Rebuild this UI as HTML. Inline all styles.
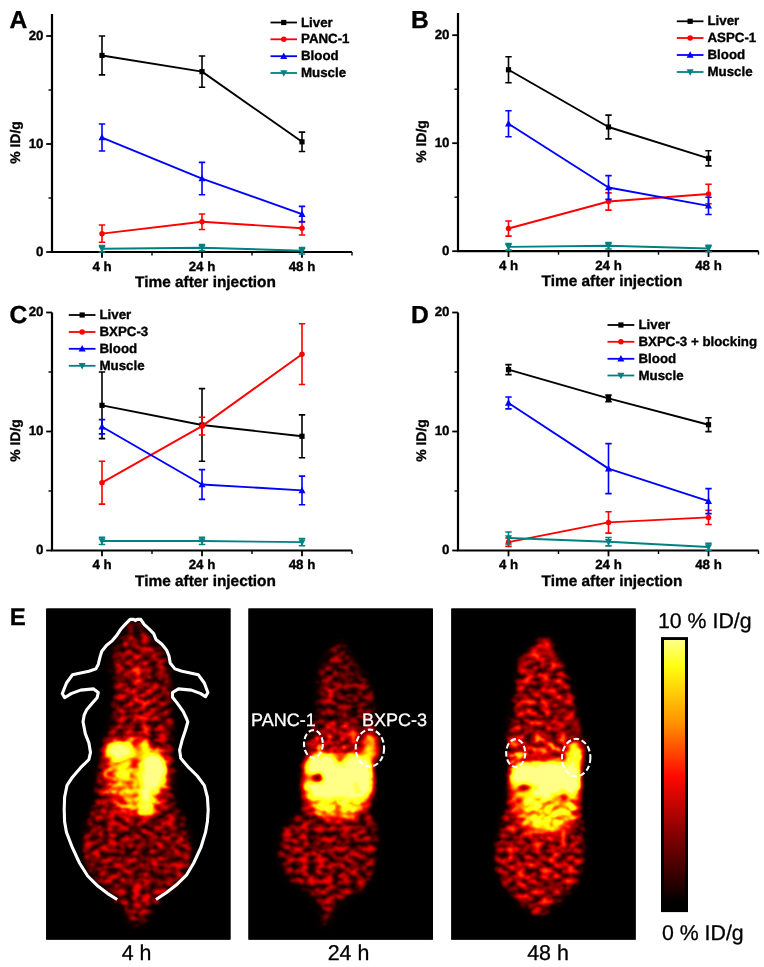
<!DOCTYPE html>
<html><head><meta charset="utf-8"><title>Figure</title>
<style>
html,body{margin:0;padding:0;background:#fff;}
body{width:764px;height:967px;overflow:hidden;}
svg{display:block;will-change:transform;}
svg text{font-family:"Liberation Sans", sans-serif;text-rendering:geometricPrecision;stroke-width:0.35px;}
#panelA text,#panelB text,#panelC text,#panelD text{stroke:#000;}
#panelE text{stroke-width:0.3px;}
</style></head>
<body>
<svg width="764" height="967" viewBox="0 0 764 967" font-family='"Liberation Sans", sans-serif'>
<rect width="764" height="967" fill="#fff"/>
<g id="panelA">
<path d="M52 14 V252 H352" fill="none" stroke="#000" stroke-width="2.2" stroke-linejoin="miter"/>
<line x1="46.2" x2="52" y1="252.00" y2="252.00" stroke="#000" stroke-width="1.8"/>
<text x="43.5" y="255.90" text-anchor="end" font-size="13.3" font-weight="bold">0</text>
<line x1="46.2" x2="52" y1="144.00" y2="144.00" stroke="#000" stroke-width="1.8"/>
<text x="43.5" y="147.90" text-anchor="end" font-size="13.3" font-weight="bold">10</text>
<line x1="46.2" x2="52" y1="36.00" y2="36.00" stroke="#000" stroke-width="1.8"/>
<text x="43.5" y="39.90" text-anchor="end" font-size="13.3" font-weight="bold">20</text>
<line x1="48.5" x2="52" y1="198.00" y2="198.00" stroke="#000" stroke-width="1.4"/>
<line x1="48.5" x2="52" y1="90.00" y2="90.00" stroke="#000" stroke-width="1.4"/>
<line x1="102" x2="102" y1="252" y2="257.8" stroke="#000" stroke-width="1.8"/>
<text x="102" y="270.60" text-anchor="middle" font-size="13.3" font-weight="bold">4 h</text>
<line x1="202" x2="202" y1="252" y2="257.8" stroke="#000" stroke-width="1.8"/>
<text x="202" y="270.60" text-anchor="middle" font-size="13.3" font-weight="bold">24 h</text>
<line x1="302" x2="302" y1="252" y2="257.8" stroke="#000" stroke-width="1.8"/>
<text x="302" y="270.60" text-anchor="middle" font-size="13.3" font-weight="bold">48 h</text>
<line x1="152" x2="152" y1="252" y2="255.5" stroke="#000" stroke-width="1.4"/>
<line x1="252" x2="252" y1="252" y2="255.5" stroke="#000" stroke-width="1.4"/>
<line x1="352" x2="352" y1="252" y2="255.5" stroke="#000" stroke-width="1.4"/>
<text x="205.5" y="287.00" text-anchor="middle" font-size="15.4" font-weight="bold">Time after injection</text>
<text transform="translate(20,142.5) rotate(-90)" text-anchor="middle" font-size="13.9" font-weight="bold">% ID/g</text>
<path d="M102 36.00 V74.88 M98.8 36.00 H105.2 M98.8 74.88 H105.2" stroke="#000000" stroke-width="1.6" fill="none"/>
<path d="M202 55.98 V87.30 M198.8 55.98 H205.2 M198.8 87.30 H205.2" stroke="#000000" stroke-width="1.6" fill="none"/>
<path d="M302 132.12 V151.56 M298.8 132.12 H305.2 M298.8 151.56 H305.2" stroke="#000000" stroke-width="1.6" fill="none"/>
<polyline points="102.00,55.44 202.00,71.64 302.00,141.84" fill="none" stroke="#000000" stroke-width="1.9" stroke-linejoin="round"/>
<rect x="99.40" y="52.84" width="5.20" height="5.20" fill="#000000"/>
<rect x="199.40" y="69.04" width="5.20" height="5.20" fill="#000000"/>
<rect x="299.40" y="139.24" width="5.20" height="5.20" fill="#000000"/>
<path d="M102 225.00 V242.28 M98.8 225.00 H105.2 M98.8 242.28 H105.2" stroke="#ff0000" stroke-width="1.6" fill="none"/>
<path d="M202 213.98 V229.54 M198.8 213.98 H205.2 M198.8 229.54 H205.2" stroke="#ff0000" stroke-width="1.6" fill="none"/>
<path d="M302 221.54 V234.94 M298.8 221.54 H305.2 M298.8 234.94 H305.2" stroke="#ff0000" stroke-width="1.6" fill="none"/>
<polyline points="102.00,233.64 202.00,221.76 302.00,228.24" fill="none" stroke="#ff0000" stroke-width="1.9" stroke-linejoin="round"/>
<circle cx="102.00" cy="233.64" r="2.75" fill="#ff0000"/>
<circle cx="202.00" cy="221.76" r="2.75" fill="#ff0000"/>
<circle cx="302.00" cy="228.24" r="2.75" fill="#ff0000"/>
<path d="M102 124.02 V151.02 M98.8 124.02 H105.2 M98.8 151.02 H105.2" stroke="#0000ff" stroke-width="1.6" fill="none"/>
<path d="M202 162.36 V194.76 M198.8 162.36 H205.2 M198.8 194.76 H205.2" stroke="#0000ff" stroke-width="1.6" fill="none"/>
<path d="M302 206.42 V221.98 M298.8 206.42 H305.2 M298.8 221.98 H305.2" stroke="#0000ff" stroke-width="1.6" fill="none"/>
<polyline points="102.00,137.52 202.00,178.56 302.00,214.20" fill="none" stroke="#0000ff" stroke-width="1.9" stroke-linejoin="round"/>
<path d="M102.00 133.82 L105.52 140.29 L98.48 140.29Z" fill="#0000ff"/>
<path d="M202.00 174.86 L205.51 181.34 L198.49 181.34Z" fill="#0000ff"/>
<path d="M302.00 210.50 L305.51 216.97 L298.49 216.97Z" fill="#0000ff"/>
<path d="M102 245.52 V252.00 M98.8 245.52 H105.2 M98.8 252.00 H105.2" stroke="#008080" stroke-width="1.6" fill="none"/>
<path d="M202 244.44 V250.92 M198.8 244.44 H205.2 M198.8 250.92 H205.2" stroke="#008080" stroke-width="1.6" fill="none"/>
<path d="M302 247.46 V253.94 M298.8 247.46 H305.2 M298.8 253.94 H305.2" stroke="#008080" stroke-width="1.6" fill="none"/>
<polyline points="102.00,248.76 202.00,247.68 302.00,250.70" fill="none" stroke="#008080" stroke-width="1.9" stroke-linejoin="round"/>
<path d="M102.00 252.46 L105.52 245.98 L98.48 245.98Z" fill="#008080"/>
<path d="M202.00 251.38 L205.51 244.91 L198.49 244.91Z" fill="#008080"/>
<path d="M302.00 254.40 L305.51 247.93 L298.49 247.93Z" fill="#008080"/>
<line x1="270.5" x2="297" y1="22.5" y2="22.5" stroke="#000000" stroke-width="1.8"/>
<rect x="281.15" y="19.90" width="5.20" height="5.20" fill="#000000"/>
<text x="301" y="26.60" font-size="13.3" font-weight="bold">Liver</text>
<line x1="270.5" x2="297" y1="39.3" y2="39.3" stroke="#ff0000" stroke-width="1.8"/>
<circle cx="283.75" cy="39.30" r="2.75" fill="#ff0000"/>
<text x="301" y="43.40" font-size="13.3" font-weight="bold">PANC-1</text>
<line x1="270.5" x2="297" y1="56.2" y2="56.2" stroke="#0000ff" stroke-width="1.8"/>
<path d="M283.75 52.50 L287.26 58.98 L280.24 58.98Z" fill="#0000ff"/>
<text x="301" y="60.30" font-size="13.3" font-weight="bold">Blood</text>
<line x1="270.5" x2="297" y1="73" y2="73" stroke="#008080" stroke-width="1.8"/>
<path d="M283.75 76.70 L287.26 70.22 L280.24 70.22Z" fill="#008080"/>
<text x="301" y="77.10" font-size="13.3" font-weight="bold">Muscle</text>
<text x="9.5" y="28.0" font-size="24.6" font-weight="bold">A</text>
</g>
<g id="panelB">
<path d="M458 13 V251.2 H758.5" fill="none" stroke="#000" stroke-width="2.2" stroke-linejoin="miter"/>
<line x1="452.2" x2="458" y1="251.20" y2="251.20" stroke="#000" stroke-width="1.8"/>
<text x="449.5" y="255.10" text-anchor="end" font-size="13.3" font-weight="bold">0</text>
<line x1="452.2" x2="458" y1="143.20" y2="143.20" stroke="#000" stroke-width="1.8"/>
<text x="449.5" y="147.10" text-anchor="end" font-size="13.3" font-weight="bold">10</text>
<line x1="452.2" x2="458" y1="35.20" y2="35.20" stroke="#000" stroke-width="1.8"/>
<text x="449.5" y="39.10" text-anchor="end" font-size="13.3" font-weight="bold">20</text>
<line x1="454.5" x2="458" y1="197.20" y2="197.20" stroke="#000" stroke-width="1.4"/>
<line x1="454.5" x2="458" y1="89.20" y2="89.20" stroke="#000" stroke-width="1.4"/>
<line x1="508.5" x2="508.5" y1="251.2" y2="257.0" stroke="#000" stroke-width="1.8"/>
<text x="508.5" y="269.80" text-anchor="middle" font-size="13.3" font-weight="bold">4 h</text>
<line x1="608.5" x2="608.5" y1="251.2" y2="257.0" stroke="#000" stroke-width="1.8"/>
<text x="608.5" y="269.80" text-anchor="middle" font-size="13.3" font-weight="bold">24 h</text>
<line x1="708.5" x2="708.5" y1="251.2" y2="257.0" stroke="#000" stroke-width="1.8"/>
<text x="708.5" y="269.80" text-anchor="middle" font-size="13.3" font-weight="bold">48 h</text>
<line x1="558.5" x2="558.5" y1="251.2" y2="254.7" stroke="#000" stroke-width="1.4"/>
<line x1="658.5" x2="658.5" y1="251.2" y2="254.7" stroke="#000" stroke-width="1.4"/>
<line x1="758.5" x2="758.5" y1="251.2" y2="254.7" stroke="#000" stroke-width="1.4"/>
<text x="612.0" y="286.20" text-anchor="middle" font-size="15.4" font-weight="bold">Time after injection</text>
<text transform="translate(426,141.5) rotate(-90)" text-anchor="middle" font-size="13.9" font-weight="bold">% ID/g</text>
<path d="M508.5 56.80 V82.72 M505.3 56.80 H511.7 M505.3 82.72 H511.7" stroke="#000000" stroke-width="1.6" fill="none"/>
<path d="M608.5 115.12 V138.88 M605.3 115.12 H611.7 M605.3 138.88 H611.7" stroke="#000000" stroke-width="1.6" fill="none"/>
<path d="M708.5 150.76 V165.88 M705.3 150.76 H711.7 M705.3 165.88 H711.7" stroke="#000000" stroke-width="1.6" fill="none"/>
<polyline points="508.50,69.76 608.50,127.00 708.50,158.32" fill="none" stroke="#000000" stroke-width="1.9" stroke-linejoin="round"/>
<rect x="505.90" y="67.16" width="5.20" height="5.20" fill="#000000"/>
<rect x="605.90" y="124.40" width="5.20" height="5.20" fill="#000000"/>
<rect x="705.90" y="155.72" width="5.20" height="5.20" fill="#000000"/>
<path d="M508.5 220.96 V236.08 M505.3 220.96 H511.7 M505.3 236.08 H511.7" stroke="#ff0000" stroke-width="1.6" fill="none"/>
<path d="M608.5 192.88 V210.16 M605.3 192.88 H611.7 M605.3 210.16 H611.7" stroke="#ff0000" stroke-width="1.6" fill="none"/>
<path d="M708.5 184.24 V203.68 M705.3 184.24 H711.7 M705.3 203.68 H711.7" stroke="#ff0000" stroke-width="1.6" fill="none"/>
<polyline points="508.50,228.52 608.50,201.52 708.50,193.96" fill="none" stroke="#ff0000" stroke-width="1.9" stroke-linejoin="round"/>
<circle cx="508.50" cy="228.52" r="2.75" fill="#ff0000"/>
<circle cx="608.50" cy="201.52" r="2.75" fill="#ff0000"/>
<circle cx="708.50" cy="193.96" r="2.75" fill="#ff0000"/>
<path d="M508.5 110.80 V136.72 M505.3 110.80 H511.7 M505.3 136.72 H511.7" stroke="#0000ff" stroke-width="1.6" fill="none"/>
<path d="M608.5 175.60 V199.36 M605.3 175.60 H611.7 M605.3 199.36 H611.7" stroke="#0000ff" stroke-width="1.6" fill="none"/>
<path d="M708.5 197.20 V214.48 M705.3 197.20 H711.7 M705.3 214.48 H711.7" stroke="#0000ff" stroke-width="1.6" fill="none"/>
<polyline points="508.50,123.76 608.50,187.48 708.50,205.84" fill="none" stroke="#0000ff" stroke-width="1.9" stroke-linejoin="round"/>
<path d="M508.50 120.06 L512.01 126.53 L504.99 126.53Z" fill="#0000ff"/>
<path d="M608.50 183.78 L612.01 190.25 L604.99 190.25Z" fill="#0000ff"/>
<path d="M708.50 202.14 L712.01 208.61 L704.99 208.61Z" fill="#0000ff"/>
<path d="M508.5 243.64 V250.12 M505.3 243.64 H511.7 M505.3 250.12 H511.7" stroke="#008080" stroke-width="1.6" fill="none"/>
<path d="M608.5 242.56 V249.04 M605.3 242.56 H611.7 M605.3 249.04 H611.7" stroke="#008080" stroke-width="1.6" fill="none"/>
<path d="M708.5 245.26 V251.74 M705.3 245.26 H711.7 M705.3 251.74 H711.7" stroke="#008080" stroke-width="1.6" fill="none"/>
<polyline points="508.50,246.88 608.50,245.80 708.50,248.50" fill="none" stroke="#008080" stroke-width="1.9" stroke-linejoin="round"/>
<path d="M508.50 250.58 L512.01 244.10 L504.99 244.10Z" fill="#008080"/>
<path d="M608.50 249.50 L612.01 243.02 L604.99 243.02Z" fill="#008080"/>
<path d="M708.50 252.20 L712.01 245.72 L704.99 245.72Z" fill="#008080"/>
<line x1="676.8" x2="703.5" y1="21.3" y2="21.3" stroke="#000000" stroke-width="1.8"/>
<rect x="687.55" y="18.70" width="5.20" height="5.20" fill="#000000"/>
<text x="707.5" y="25.40" font-size="13.3" font-weight="bold">Liver</text>
<line x1="676.8" x2="703.5" y1="38" y2="38" stroke="#ff0000" stroke-width="1.8"/>
<circle cx="690.15" cy="38.00" r="2.75" fill="#ff0000"/>
<text x="707.5" y="42.10" font-size="13.3" font-weight="bold">ASPC-1</text>
<line x1="676.8" x2="703.5" y1="55" y2="55" stroke="#0000ff" stroke-width="1.8"/>
<path d="M690.15 51.30 L693.66 57.77 L686.63 57.77Z" fill="#0000ff"/>
<text x="707.5" y="59.10" font-size="13.3" font-weight="bold">Blood</text>
<line x1="676.8" x2="703.5" y1="72" y2="72" stroke="#008080" stroke-width="1.8"/>
<path d="M690.15 75.70 L693.66 69.22 L686.63 69.22Z" fill="#008080"/>
<text x="707.5" y="76.10" font-size="13.3" font-weight="bold">Muscle</text>
<text x="411" y="28.0" font-size="24.6" font-weight="bold">B</text>
</g>
<g id="panelC">
<path d="M52 312.5 V550.5 H352" fill="none" stroke="#000" stroke-width="2.2" stroke-linejoin="miter"/>
<line x1="46.2" x2="52" y1="550.50" y2="550.50" stroke="#000" stroke-width="1.8"/>
<text x="43.5" y="554.40" text-anchor="end" font-size="13.3" font-weight="bold">0</text>
<line x1="46.2" x2="52" y1="431.50" y2="431.50" stroke="#000" stroke-width="1.8"/>
<text x="43.5" y="435.40" text-anchor="end" font-size="13.3" font-weight="bold">10</text>
<line x1="46.2" x2="52" y1="312.50" y2="312.50" stroke="#000" stroke-width="1.8"/>
<text x="43.5" y="316.40" text-anchor="end" font-size="13.3" font-weight="bold">20</text>
<line x1="48.5" x2="52" y1="491.00" y2="491.00" stroke="#000" stroke-width="1.4"/>
<line x1="48.5" x2="52" y1="372.00" y2="372.00" stroke="#000" stroke-width="1.4"/>
<line x1="102" x2="102" y1="550.5" y2="556.3" stroke="#000" stroke-width="1.8"/>
<text x="102" y="569.10" text-anchor="middle" font-size="13.3" font-weight="bold">4 h</text>
<line x1="202" x2="202" y1="550.5" y2="556.3" stroke="#000" stroke-width="1.8"/>
<text x="202" y="569.10" text-anchor="middle" font-size="13.3" font-weight="bold">24 h</text>
<line x1="302" x2="302" y1="550.5" y2="556.3" stroke="#000" stroke-width="1.8"/>
<text x="302" y="569.10" text-anchor="middle" font-size="13.3" font-weight="bold">48 h</text>
<line x1="152" x2="152" y1="550.5" y2="554.0" stroke="#000" stroke-width="1.4"/>
<line x1="252" x2="252" y1="550.5" y2="554.0" stroke="#000" stroke-width="1.4"/>
<line x1="352" x2="352" y1="550.5" y2="554.0" stroke="#000" stroke-width="1.4"/>
<text x="205.5" y="585.50" text-anchor="middle" font-size="15.4" font-weight="bold">Time after injection</text>
<text transform="translate(20,440.5) rotate(-90)" text-anchor="middle" font-size="13.9" font-weight="bold">% ID/g</text>
<path d="M102 372.00 V438.64 M98.8 372.00 H105.2 M98.8 438.64 H105.2" stroke="#000000" stroke-width="1.6" fill="none"/>
<path d="M202 388.66 V461.25 M198.8 388.66 H205.2 M198.8 461.25 H205.2" stroke="#000000" stroke-width="1.6" fill="none"/>
<path d="M302 414.84 V457.68 M298.8 414.84 H305.2 M298.8 457.68 H305.2" stroke="#000000" stroke-width="1.6" fill="none"/>
<polyline points="102.00,405.32 202.00,424.95 302.00,436.26" fill="none" stroke="#000000" stroke-width="1.9" stroke-linejoin="round"/>
<rect x="99.40" y="402.72" width="5.20" height="5.20" fill="#000000"/>
<rect x="199.40" y="422.35" width="5.20" height="5.20" fill="#000000"/>
<rect x="299.40" y="433.66" width="5.20" height="5.20" fill="#000000"/>
<path d="M102 461.25 V504.09 M98.8 461.25 H105.2 M98.8 504.09 H105.2" stroke="#ff0000" stroke-width="1.6" fill="none"/>
<path d="M202 417.22 V435.07 M198.8 417.22 H205.2 M198.8 435.07 H205.2" stroke="#ff0000" stroke-width="1.6" fill="none"/>
<path d="M302 323.80 V384.50 M298.8 323.80 H305.2 M298.8 384.50 H305.2" stroke="#ff0000" stroke-width="1.6" fill="none"/>
<polyline points="102.00,482.67 202.00,426.14 302.00,354.15" fill="none" stroke="#ff0000" stroke-width="1.9" stroke-linejoin="round"/>
<circle cx="102.00" cy="482.67" r="2.75" fill="#ff0000"/>
<circle cx="202.00" cy="426.14" r="2.75" fill="#ff0000"/>
<circle cx="302.00" cy="354.15" r="2.75" fill="#ff0000"/>
<path d="M102 419.60 V433.88 M98.8 419.60 H105.2 M98.8 433.88 H105.2" stroke="#0000ff" stroke-width="1.6" fill="none"/>
<path d="M202 469.58 V499.33 M198.8 469.58 H205.2 M198.8 499.33 H205.2" stroke="#0000ff" stroke-width="1.6" fill="none"/>
<path d="M302 476.12 V504.68 M298.8 476.12 H305.2 M298.8 504.68 H305.2" stroke="#0000ff" stroke-width="1.6" fill="none"/>
<polyline points="102.00,426.74 202.00,484.45 302.00,490.40" fill="none" stroke="#0000ff" stroke-width="1.9" stroke-linejoin="round"/>
<path d="M102.00 423.04 L105.52 429.51 L98.48 429.51Z" fill="#0000ff"/>
<path d="M202.00 480.75 L205.51 487.23 L198.49 487.23Z" fill="#0000ff"/>
<path d="M302.00 486.70 L305.51 493.18 L298.49 493.18Z" fill="#0000ff"/>
<path d="M102 537.41 V544.55 M98.8 537.41 H105.2 M98.8 544.55 H105.2" stroke="#008080" stroke-width="1.6" fill="none"/>
<path d="M202 537.41 V544.55 M198.8 537.41 H205.2 M198.8 544.55 H205.2" stroke="#008080" stroke-width="1.6" fill="none"/>
<path d="M302 538.60 V545.74 M298.8 538.60 H305.2 M298.8 545.74 H305.2" stroke="#008080" stroke-width="1.6" fill="none"/>
<polyline points="102.00,540.98 202.00,540.98 302.00,542.17" fill="none" stroke="#008080" stroke-width="1.9" stroke-linejoin="round"/>
<path d="M102.00 544.68 L105.52 538.21 L98.48 538.21Z" fill="#008080"/>
<path d="M202.00 544.68 L205.51 538.21 L198.49 538.21Z" fill="#008080"/>
<path d="M302.00 545.87 L305.51 539.39 L298.49 539.39Z" fill="#008080"/>
<line x1="68.8" x2="95.5" y1="315" y2="315" stroke="#000000" stroke-width="1.8"/>
<rect x="79.55" y="312.40" width="5.20" height="5.20" fill="#000000"/>
<text x="99.5" y="319.10" font-size="13.3" font-weight="bold">Liver</text>
<line x1="68.8" x2="95.5" y1="332" y2="332" stroke="#ff0000" stroke-width="1.8"/>
<circle cx="82.15" cy="332.00" r="2.75" fill="#ff0000"/>
<text x="99.5" y="336.10" font-size="13.3" font-weight="bold">BXPC-3</text>
<line x1="68.8" x2="95.5" y1="348.8" y2="348.8" stroke="#0000ff" stroke-width="1.8"/>
<path d="M82.15 345.10 L85.67 351.57 L78.64 351.57Z" fill="#0000ff"/>
<text x="99.5" y="352.90" font-size="13.3" font-weight="bold">Blood</text>
<line x1="68.8" x2="95.5" y1="365.8" y2="365.8" stroke="#008080" stroke-width="1.8"/>
<path d="M82.15 369.50 L85.67 363.03 L78.64 363.03Z" fill="#008080"/>
<text x="99.5" y="369.90" font-size="13.3" font-weight="bold">Muscle</text>
<text x="9.5" y="323" font-size="24.6" font-weight="bold">C</text>
</g>
<g id="panelD">
<path d="M458 312.5 V550.5 H758.5" fill="none" stroke="#000" stroke-width="2.2" stroke-linejoin="miter"/>
<line x1="452.2" x2="458" y1="550.50" y2="550.50" stroke="#000" stroke-width="1.8"/>
<text x="449.5" y="554.40" text-anchor="end" font-size="13.3" font-weight="bold">0</text>
<line x1="452.2" x2="458" y1="431.50" y2="431.50" stroke="#000" stroke-width="1.8"/>
<text x="449.5" y="435.40" text-anchor="end" font-size="13.3" font-weight="bold">10</text>
<line x1="452.2" x2="458" y1="312.50" y2="312.50" stroke="#000" stroke-width="1.8"/>
<text x="449.5" y="316.40" text-anchor="end" font-size="13.3" font-weight="bold">20</text>
<line x1="454.5" x2="458" y1="491.00" y2="491.00" stroke="#000" stroke-width="1.4"/>
<line x1="454.5" x2="458" y1="372.00" y2="372.00" stroke="#000" stroke-width="1.4"/>
<line x1="508.5" x2="508.5" y1="550.5" y2="556.3" stroke="#000" stroke-width="1.8"/>
<text x="508.5" y="569.10" text-anchor="middle" font-size="13.3" font-weight="bold">4 h</text>
<line x1="608.5" x2="608.5" y1="550.5" y2="556.3" stroke="#000" stroke-width="1.8"/>
<text x="608.5" y="569.10" text-anchor="middle" font-size="13.3" font-weight="bold">24 h</text>
<line x1="708.5" x2="708.5" y1="550.5" y2="556.3" stroke="#000" stroke-width="1.8"/>
<text x="708.5" y="569.10" text-anchor="middle" font-size="13.3" font-weight="bold">48 h</text>
<line x1="558.5" x2="558.5" y1="550.5" y2="554.0" stroke="#000" stroke-width="1.4"/>
<line x1="658.5" x2="658.5" y1="550.5" y2="554.0" stroke="#000" stroke-width="1.4"/>
<line x1="758.5" x2="758.5" y1="550.5" y2="554.0" stroke="#000" stroke-width="1.4"/>
<text x="612.0" y="585.50" text-anchor="middle" font-size="15.4" font-weight="bold">Time after injection</text>
<text transform="translate(426,440.5) rotate(-90)" text-anchor="middle" font-size="13.9" font-weight="bold">% ID/g</text>
<path d="M508.5 364.62 V374.62 M505.3 364.62 H511.7 M505.3 374.62 H511.7" stroke="#000000" stroke-width="1.6" fill="none"/>
<path d="M608.5 395.09 V401.75 M605.3 395.09 H611.7 M605.3 401.75 H611.7" stroke="#000000" stroke-width="1.6" fill="none"/>
<path d="M708.5 417.81 V431.62 M705.3 417.81 H711.7 M705.3 431.62 H711.7" stroke="#000000" stroke-width="1.6" fill="none"/>
<polyline points="508.50,369.62 608.50,398.42 708.50,424.72" fill="none" stroke="#000000" stroke-width="1.9" stroke-linejoin="round"/>
<rect x="505.90" y="367.02" width="5.20" height="5.20" fill="#000000"/>
<rect x="605.90" y="395.82" width="5.20" height="5.20" fill="#000000"/>
<rect x="705.90" y="422.12" width="5.20" height="5.20" fill="#000000"/>
<path d="M508.5 538.00 V546.33 M505.3 538.00 H511.7 M505.3 546.33 H511.7" stroke="#ff0000" stroke-width="1.6" fill="none"/>
<path d="M608.5 511.71 V533.13 M605.3 511.71 H611.7 M605.3 533.13 H611.7" stroke="#ff0000" stroke-width="1.6" fill="none"/>
<path d="M708.5 510.28 V524.56 M705.3 510.28 H711.7 M705.3 524.56 H711.7" stroke="#ff0000" stroke-width="1.6" fill="none"/>
<polyline points="508.50,542.17 608.50,522.42 708.50,517.42" fill="none" stroke="#ff0000" stroke-width="1.9" stroke-linejoin="round"/>
<circle cx="508.50" cy="542.17" r="2.75" fill="#ff0000"/>
<circle cx="608.50" cy="522.42" r="2.75" fill="#ff0000"/>
<circle cx="708.50" cy="517.42" r="2.75" fill="#ff0000"/>
<path d="M508.5 396.99 V408.89 M505.3 396.99 H511.7 M505.3 408.89 H511.7" stroke="#0000ff" stroke-width="1.6" fill="none"/>
<path d="M608.5 443.64 V493.62 M605.3 443.64 H611.7 M605.3 493.62 H611.7" stroke="#0000ff" stroke-width="1.6" fill="none"/>
<path d="M708.5 488.62 V513.61 M705.3 488.62 H711.7 M705.3 513.61 H711.7" stroke="#0000ff" stroke-width="1.6" fill="none"/>
<polyline points="508.50,402.94 608.50,468.63 708.50,501.12" fill="none" stroke="#0000ff" stroke-width="1.9" stroke-linejoin="round"/>
<path d="M508.50 399.24 L512.01 405.71 L504.99 405.71Z" fill="#0000ff"/>
<path d="M608.50 464.93 L612.01 471.40 L604.99 471.40Z" fill="#0000ff"/>
<path d="M708.50 497.42 L712.01 503.89 L704.99 503.89Z" fill="#0000ff"/>
<path d="M508.5 532.05 V543.96 M505.3 532.05 H511.7 M505.3 543.96 H511.7" stroke="#008080" stroke-width="1.6" fill="none"/>
<path d="M608.5 537.53 V545.86 M605.3 537.53 H611.7 M605.3 545.86 H611.7" stroke="#008080" stroke-width="1.6" fill="none"/>
<path d="M708.5 543.36 V550.50 M705.3 543.36 H711.7 M705.3 550.50 H711.7" stroke="#008080" stroke-width="1.6" fill="none"/>
<polyline points="508.50,538.00 608.50,541.69 708.50,546.93" fill="none" stroke="#008080" stroke-width="1.9" stroke-linejoin="round"/>
<path d="M508.50 541.71 L512.01 535.23 L504.99 535.23Z" fill="#008080"/>
<path d="M608.50 545.39 L612.01 538.92 L604.99 538.92Z" fill="#008080"/>
<path d="M708.50 550.63 L712.01 544.15 L704.99 544.15Z" fill="#008080"/>
<line x1="607.5" x2="634.3" y1="325" y2="325" stroke="#000000" stroke-width="1.8"/>
<rect x="618.30" y="322.40" width="5.20" height="5.20" fill="#000000"/>
<text x="638.5" y="329.10" font-size="13.3" font-weight="bold">Liver</text>
<line x1="607.5" x2="634.3" y1="341.8" y2="341.8" stroke="#ff0000" stroke-width="1.8"/>
<circle cx="620.90" cy="341.80" r="2.75" fill="#ff0000"/>
<text x="638.5" y="345.90" font-size="13.3" font-weight="bold">BXPC-3 + blocking</text>
<line x1="607.5" x2="634.3" y1="358.8" y2="358.8" stroke="#0000ff" stroke-width="1.8"/>
<path d="M620.90 355.10 L624.41 361.57 L617.38 361.57Z" fill="#0000ff"/>
<text x="638.5" y="362.90" font-size="13.3" font-weight="bold">Blood</text>
<line x1="607.5" x2="634.3" y1="375.5" y2="375.5" stroke="#008080" stroke-width="1.8"/>
<path d="M620.90 379.20 L624.41 372.73 L617.38 372.73Z" fill="#008080"/>
<text x="638.5" y="379.60" font-size="13.3" font-weight="bold">Muscle</text>
<text x="411" y="323" font-size="24.6" font-weight="bold">D</text>
</g>
<g id="panelE">

<defs>
<filter id="hot" x="0" y="0" width="1" height="1" color-interpolation-filters="sRGB">
  <feGaussianBlur in="SourceGraphic" stdDeviation="3.2" result="bl"/>
  <feColorMatrix in="bl" type="matrix" values="1 0 0 0 0  1 0 0 0 0  1 0 0 0 0  0 0 0 0 1" result="bodyI"/>
  <feColorMatrix in="bl" type="matrix" values="0 1 0 0 0  0 1 0 0 0  0 1 0 0 0  0 0 0 0 1" result="livI"/>
  <feTurbulence type="fractalNoise" baseFrequency="0.12 0.19" numOctaves="2" seed="11" result="nz"/>
  <feColorMatrix in="nz" type="matrix" values="2.1 0 0 0 -0.470  2.1 0 0 0 -0.470  2.1 0 0 0 -0.470  0 0 0 0 1" result="n0"/>
  <feComponentTransfer in="n0" result="n1"><feFuncR type="table" tableValues="0.150 0.152 0.159 0.169 0.184 0.203 0.226 0.254 0.286 0.322 0.362 0.407 0.456 0.509 0.566 0.628 0.694 0.764 0.839 0.917 1.000"/><feFuncG type="table" tableValues="0.150 0.152 0.159 0.169 0.184 0.203 0.226 0.254 0.286 0.322 0.362 0.407 0.456 0.509 0.566 0.628 0.694 0.764 0.839 0.917 1.000"/><feFuncB type="table" tableValues="0.150 0.152 0.159 0.169 0.184 0.203 0.226 0.254 0.286 0.322 0.362 0.407 0.456 0.509 0.566 0.628 0.694 0.764 0.839 0.917 1.000"/></feComponentTransfer>
  <feColorMatrix in="nz" type="matrix" values="0 0.9 0 0 0.35  0 0.9 0 0 0.35  0 0.9 0 0 0.35  0 0 0 0 1" result="n2"/>
  <feComposite in="bodyI" in2="n1" operator="arithmetic" k1="1" k2="0" k3="0" k4="0" result="m1"/>
  <feComposite in="livI" in2="n2" operator="arithmetic" k1="1" k2="0" k3="0" k4="0" result="m2"/>
  <feComposite in="m1" in2="m2" operator="arithmetic" k1="0" k2="1" k3="1" k4="0" result="m"/>
  <feGaussianBlur in="m" stdDeviation="1.3" result="mb"/>
  <feComponentTransfer in="mb">
    <feFuncR type="table" tableValues="0.000 0.032 0.064 0.156 0.248 0.340 0.417 0.494 0.570 0.647 0.723 0.791 0.860 0.928 0.996 1.000 1.000 1.000 1.000 1.000 1.000 1.000 1.000 1.000 1.000 1.000 1.000 1.000 1.000 1.000 1.000 1.000 1.000 1.000 1.000 1.000 1.000 1.000 1.000 1.000 1.000 1.000 1.000 1.000 1.000 1.000 1.000 1.000 1.000 1.000 1.000 1.000 1.000 1.000 1.000 1.000 1.000 1.000 1.000 1.000 1.000 1.000 1.000 1.000 1.000 1.000 1.000 1.000 1.000 1.000 1.000 1.000 1.000 1.000 1.000 1.000 1.000 1.000 1.000 1.000 1.000 1.000 1.000 1.000 1.000 1.000 1.000 1.000 1.000 1.000 1.000 1.000 1.000 1.000 1.000 1.000 1.000 1.000 1.000 1.000 1.000"/>
    <feFuncG type="table" tableValues="0.000 0.000 0.000 0.000 0.000 0.000 0.000 0.000 0.000 0.000 0.000 0.000 0.000 0.000 0.000 0.070 0.144 0.219 0.293 0.367 0.442 0.507 0.572 0.637 0.702 0.767 0.814 0.860 0.907 0.953 1.000 1.000 1.000 1.000 1.000 1.000 1.000 1.000 1.000 1.000 1.000 1.000 1.000 1.000 1.000 1.000 1.000 1.000 1.000 1.000 1.000 1.000 1.000 1.000 1.000 1.000 1.000 1.000 1.000 1.000 1.000 1.000 1.000 1.000 1.000 1.000 1.000 1.000 1.000 1.000 1.000 1.000 1.000 1.000 1.000 1.000 1.000 1.000 1.000 1.000 1.000 1.000 1.000 1.000 1.000 1.000 1.000 1.000 1.000 1.000 1.000 1.000 1.000 1.000 1.000 1.000 1.000 1.000 1.000 1.000 1.000"/>
    <feFuncB type="table" tableValues="0.000 0.000 0.000 0.000 0.000 0.000 0.000 0.000 0.000 0.000 0.000 0.000 0.000 0.000 0.000 0.000 0.000 0.000 0.000 0.000 0.000 0.000 0.000 0.000 0.000 0.000 0.000 0.000 0.000 0.000 0.000 0.018 0.035 0.053 0.071 0.088 0.106 0.124 0.141 0.159 0.177 0.194 0.212 0.230 0.247 0.265 0.283 0.300 0.318 0.336 0.353 0.371 0.389 0.406 0.424 0.442 0.459 0.477 0.495 0.512 0.530 0.530 0.530 0.530 0.530 0.530 0.530 0.530 0.530 0.530 0.530 0.530 0.530 0.530 0.530 0.530 0.530 0.530 0.530 0.530 0.530 0.530 0.530 0.530 0.530 0.530 0.530 0.530 0.530 0.530 0.530 0.530 0.530 0.530 0.530 0.530 0.530 0.530 0.530 0.530 0.530"/>
  </feComponentTransfer>
</filter>
<linearGradient id="cb" x1="0" y1="0" x2="0" y2="1">
  <stop offset="0" stop-color="#ffff88"/>
  <stop offset="0.10" stop-color="#ffff10"/>
  <stop offset="0.32" stop-color="#ff9000"/>
  <stop offset="0.52" stop-color="#ff0800"/>
  <stop offset="0.75" stop-color="#800000"/>
  <stop offset="0.96" stop-color="#180000"/>
  <stop offset="1" stop-color="#000"/>
</linearGradient>
</defs><rect x="46.1" y="608.8" width="184.0" height="330.8" fill="#000"/>
<g filter="url(#hot)"><rect x="46.1" y="608.8" width="184.0" height="330.8" fill="#000"/>
<polygon points="135.5,619 142,626 151,639 163,652 168,665 171,678 172,692 171,705 173,718 173,731 172,744 174,773 173,799 187,825 192,852 187,870 176,886 161,899 150,912 144,925 130,925 124,912 115,899 102,886 89,870 82,852 85,825 96,799 96,773 103,744 109,731 112,718 113,705 114,692 112,678 110,665 113,652 120,639 129,626" fill="#f00" fill-opacity="0.14"/>
<ellipse cx="138" cy="700" rx="14" ry="50" fill="#f00" fill-opacity="0.05"/>
<ellipse cx="136" cy="778" rx="33" ry="40" fill="#f00" fill-opacity="0.12"/>
<ellipse cx="136" cy="778" rx="32" ry="40" fill="#0f0" fill-opacity="0.07"/>
<ellipse cx="138" cy="777" rx="23" ry="32" fill="#0f0" fill-opacity="0.1"/>
<ellipse cx="153.5" cy="771.5" rx="10.5" ry="17.5" fill="#0f0" fill-opacity="0.9" transform="rotate(8 153.5 771.5)"/>
<ellipse cx="146" cy="800" rx="6" ry="16" fill="#0f0" fill-opacity="0.55"/>
<ellipse cx="118" cy="751" rx="11" ry="7.5" fill="#0f0" fill-opacity="0.9"/>
<ellipse cx="122" cy="773" rx="5.5" ry="5" fill="#0f0" fill-opacity="0.5"/>
<ellipse cx="138" cy="753" rx="10" ry="5" fill="#0f0" fill-opacity="0.15"/>
<ellipse cx="133" cy="763" rx="4.5" ry="4" fill="#000" fill-opacity="0.6"/>
</g>
<rect x="248.7" y="608.8" width="184.3" height="330.8" fill="#000"/>
<g filter="url(#hot)"><rect x="248.7" y="608.8" width="184.3" height="330.8" fill="#000"/>
<polygon points="340,640 351,652 356,665 367,678 372,692 375,705 375,718 377,731 379,744 376,760 304,760 307,744 311,731 315,718 317,705 317,692 317,678 322,665 327,652" fill="#f00" fill-opacity="0.11"/>
<polygon points="340,755 375,760 372,773 370,799 370,812 375,825 377,838 377,852 375,865 370,878 359,891 341,901 331,917 328,928 325,928 323,917 318,901 308,891 287,878 283,865 279,852 279,838 286,825 302,812 304,799 302,773 302,760" fill="#f00" fill-opacity="0.14"/>
<ellipse cx="340" cy="738" rx="18" ry="16" fill="#f00" fill-opacity="0.13"/>
<ellipse cx="329" cy="692" rx="6" ry="8" fill="#f00" fill-opacity="0.1"/>
<ellipse cx="338" cy="786" rx="36" ry="34" fill="#0f0" fill-opacity="0.16"/>
<rect x="308" y="756" width="28" height="41" rx="10" fill="#0f0" fill-opacity="1.0"/>
<rect x="343" y="757" width="27" height="40" rx="10" fill="#0f0" fill-opacity="1.0"/>
<rect x="312" y="768" width="52" height="28" rx="8" fill="#0f0" fill-opacity="1.0"/>
<ellipse cx="338" cy="803" rx="25" ry="10" fill="#0f0" fill-opacity="0.1"/>
<ellipse cx="338" cy="806" rx="27" ry="10" fill="#f00" fill-opacity="0.25"/>
<ellipse cx="370" cy="748" rx="8.5" ry="13" fill="#0f0" fill-opacity="0.22"/>
<ellipse cx="369" cy="753" rx="5" ry="5" fill="#0f0" fill-opacity="0.12"/>
<ellipse cx="369.5" cy="738" rx="5" ry="4" fill="#0f0" fill-opacity="0.13"/>
<ellipse cx="315.5" cy="745" rx="5.5" ry="9" fill="#f00" fill-opacity="0.28"/>
<ellipse cx="317" cy="778" rx="9" ry="6.5" fill="#000" fill-opacity="1.0"/>
<ellipse cx="356" cy="786" rx="3.5" ry="7" fill="#000" fill-opacity="0.8"/>
<ellipse cx="338" cy="757" rx="4" ry="4" fill="#000" fill-opacity="0.7"/>
</g>
<rect x="451.3" y="608.8" width="184.3" height="330.8" fill="#000"/>
<g filter="url(#hot)"><rect x="451.3" y="608.8" width="184.3" height="330.8" fill="#000"/>
<polygon points="546,636 554,647 562,665 567,678 572,692 575,705 577,718 579,731 584,744 579,773 578,799 582,820 583,838 583,852 583,865 579,878 569,891 556,904 543,915 534,915 522,904 509,891 500,878 496,865 496,852 498,838 503,820 510,799 509,773 508,744 508,731 511,718 513,705 515,692 518,678 520,665 531,647" fill="#f00" fill-opacity="0.18"/>
<ellipse cx="545" cy="750" rx="22" ry="14" fill="#f00" fill-opacity="0.1"/>
<ellipse cx="545" cy="795" rx="36" ry="36" fill="#0f0" fill-opacity="0.13"/>
<rect x="513" y="765" width="65" height="30" rx="9" fill="#0f0" fill-opacity="1.0"/>
<ellipse cx="548" cy="805" rx="27" ry="13" fill="#0f0" fill-opacity="0.08"/>
<ellipse cx="548" cy="809" rx="28" ry="17" fill="#f00" fill-opacity="0.3"/>
<ellipse cx="545" cy="826" rx="24" ry="9" fill="#0f0" fill-opacity="0.12"/>
<ellipse cx="574.5" cy="757" rx="7" ry="12.5" fill="#0f0" fill-opacity="0.5"/>
<ellipse cx="516" cy="741" rx="3.5" ry="3" fill="#0f0" fill-opacity="0.25"/>
<ellipse cx="516" cy="755" rx="6" ry="9" fill="#f00" fill-opacity="0.2"/>
<ellipse cx="546" cy="646" rx="5" ry="2.5" fill="#0f0" fill-opacity="0.25"/>
<ellipse cx="535" cy="652" rx="4" ry="2.5" fill="#0f0" fill-opacity="0.2"/>
<ellipse cx="523" cy="661" rx="4" ry="2.5" fill="#0f0" fill-opacity="0.2"/>
<ellipse cx="525" cy="787.5" rx="11" ry="5.5" fill="#000" fill-opacity="1.0"/>
<ellipse cx="563" cy="795" rx="7" ry="5" fill="#000" fill-opacity="0.9"/>
</g>
<path d="M117.2 899.5 L107.7 893.6 L97.1 885.4 L87.7 876 L79.5 863 L72.4 847.7 L66.5 832.4 L64.6 821.8 L64.2 810 L64.6 797.2 L67 785.4 L72.4 777.2 L80.6 767.7 L88.9 759.5 L90.5 752.4 L88.9 743 L85.3 733.6 L83 721.8 L84.2 715 L86.5 710.1 L92.4 703.1 L97.1 697.7 L98.3 692.5 L93.6 688.9 L80.6 690.1 L71.2 693.6 L64.6 697.7 L62.3 693.6 L66.5 683 L72.4 674.8 L88.9 671.3 L95.9 668.9 L98.3 664.2 L100 657.1 L101.8 651.2 L106.6 645.3 L112.4 640.6 L117.2 634.7 L120.7 629.3 L125.4 624.1 L130.1 619.4 L133.5 619.2 L135.4 620.6 L137.3 619.2 L140.7 619.4 L144.3 624.6 L149 628.9 L153.7 633.6 L156 639.5 L161.9 644.2 L166.6 650.1 L169 656 L170.2 663 L174.9 668.9 L182 671.3 L198.4 674.8 L204.3 683 L207.9 692.5 L205.5 696.7 L200.8 693.6 L191.4 690.1 L178.4 688.9 L172.5 692.5 L172.5 697.2 L177.2 703.1 L183.1 711.3 L186.7 719 L187.8 722 L185.5 730 L182 740.6 L179.6 750.1 L180.8 758.3 L187.8 766.6 L197.3 776 L204.3 785.4 L207.4 797.2 L208.2 810 L207.4 821.8 L205.5 832.4 L200.8 847.7 L193.7 863 L186.7 874.8 L177.2 884.2 L166.6 892.5 L156 899.5" fill="none" stroke="#fff" stroke-width="3.1" stroke-linejoin="round" stroke-linecap="butt"/>
<ellipse cx="313.4" cy="743.9" rx="9.4" ry="13.8" fill="none" stroke="#fff" stroke-width="2.1" stroke-dasharray="5.6 2.7"/>
<ellipse cx="369.9" cy="748.1" rx="14.2" ry="18.5" fill="none" stroke="#fff" stroke-width="2.1" stroke-dasharray="5.6 2.7"/>
<ellipse cx="515.7" cy="753" rx="9.5" ry="13.9" fill="none" stroke="#fff" stroke-width="2.1" stroke-dasharray="5.6 2.7"/>
<ellipse cx="576.2" cy="757.6" rx="14.2" ry="18.7" fill="none" stroke="#fff" stroke-width="2.1" stroke-dasharray="5.6 2.7"/>
<text x="251.0" y="725.7" font-size="18.0" fill="#fff" stroke="#fff">PANC-1</text>
<text x="362.0" y="725.7" font-size="18.0" fill="#fff" stroke="#fff">BXPC-3</text>
<rect x="661" y="637.1" width="27" height="275" fill="#000"/>
<rect x="664" y="640" width="21" height="262" fill="url(#cb)"/>
<text x="658.0" y="627.9" font-size="21.3" stroke="#000">10 % ID/g</text>
<text x="662.0" y="939.8" font-size="21.3" stroke="#000">0 % ID/g</text>
<text x="136.5" y="960.0" font-size="21.4" text-anchor="middle" stroke="#000">4 h</text>
<text x="348.5" y="960.0" font-size="21.4" text-anchor="middle" stroke="#000">24 h</text>
<text x="548" y="960.0" font-size="21.4" text-anchor="middle" stroke="#000">48 h</text>
<text x="9.7" y="624.7" font-size="24" font-weight="bold" stroke="#000">E</text>

</g>
</svg>
</body></html>
